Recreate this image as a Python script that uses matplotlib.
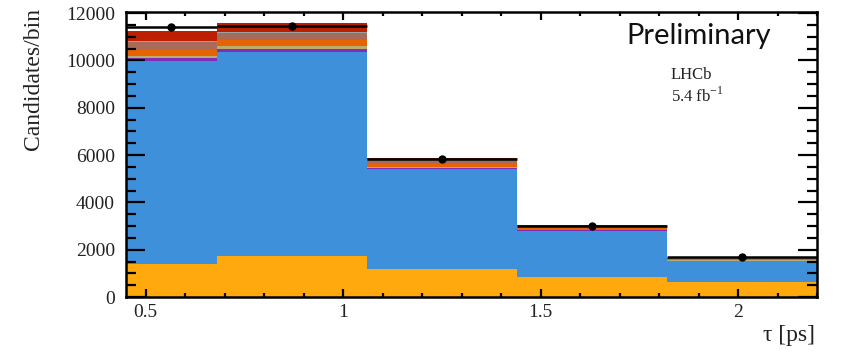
import numpy as np
import matplotlib
matplotlib.use("Agg")
import matplotlib.pyplot as plt
from matplotlib.ticker import MultipleLocator

# Bin edges (tau in ps)
edges = [0.45, 0.68, 1.06, 1.44, 1.82, 2.2]

# Stacked components (bottom to top)
comp_yellow = [1396, 1720, 1197, 859, 647]
comp_blue = [8574, 8656, 4233, 1946, 876]
comp_purple = [140, 115, 40, 20, 15]
comp_tan = [100, 115, 40, 15, 8]
comp_orange = [250, 265, 170, 70, 45]
comp_brown = [310, 300, 140, 70, 45]
comp_teal = [45, 40, 20, 10, 5]
comp_red = [420, 380, 50, 40, 25]

components = [comp_yellow, comp_blue, comp_purple, comp_tan,
              comp_orange, comp_brown, comp_teal, comp_red]
colors = ["#ffa90e", "#3f90da", "#832db6", "#b9ac70",
          "#e76300", "#a96b59", "#94a4a2", "#bd1f01"]

# Data points
data_y = [11410, 11437, 5837, 3003, 1705]
data_yerr = [107, 107, 76, 55, 41]

fig = plt.figure(figsize=(8.46, 3.51), dpi=100)
ax = fig.add_axes([126/846, 1-297/351, (817-126)/846, (297-12)/351])

edges_a = np.array(edges)
base = np.zeros(len(edges) - 1)
for vals, col in zip(components, colors):
    top = base + np.array(vals)
    ax.stairs(top, edges_a, baseline=base, fill=True, color=col, linewidth=0)
    base = top

centers = 0.5 * (edges_a[1:] + edges_a[:-1])
halfw = 0.5 * (edges_a[1:] - edges_a[:-1])
ax.errorbar(centers, data_y, xerr=halfw, yerr=data_yerr, fmt='o', color='black',
            markersize=5, elinewidth=1.8, capsize=0)

ax.set_xlim(0.45, 2.2)
ax.set_ylim(0, 12050)

ax.xaxis.set_minor_locator(MultipleLocator(0.1))
ax.yaxis.set_major_locator(MultipleLocator(2000))
ax.yaxis.set_minor_locator(MultipleLocator(500))

ax.set_xticks([0.5, 1, 1.5, 2])
ax.set_xticklabels(["0.5", "1", "1.5", "2"])

serif = "Liberation Serif"
for lab in ax.get_xticklabels() + ax.get_yticklabels():
    lab.set_fontfamily(serif)
    lab.set_fontsize(14)
    lab.set_color("#222222")

ax.tick_params(axis='x', which='major', direction='in', length=6, width=1.6,
               top=True, bottom=True, pad=5)
ax.tick_params(axis='x', which='minor', direction='in', length=3, width=1.6,
               top=True, bottom=True)
ax.tick_params(axis='y', which='major', direction='in', length=14, width=1.6,
               left=True, right=True, pad=8)
ax.tick_params(axis='y', which='minor', direction='in', length=7, width=1.6,
               left=True, right=True)
for sp in ax.spines.values():
    sp.set_linewidth(1.8)

fig.text(33/846, 1-8/351, "Candidates/bin", rotation=90, ha='center', va='top',
         fontfamily=serif, fontsize=17, color="#222222")
fig.text(815/846, 1-335/351, "τ [ps]", ha='right', va='center',
         fontfamily=serif, fontsize=17, color="#222222")

fig.text(699/846, 1-36/351, "Preliminary", ha='center', va='center',
         fontfamily="Lato", fontsize=21, color="#111111")
fig.text(671/846, 1-75/351, "LHCb", ha='left', va='center',
         fontfamily=serif, fontsize=12, color="#222222")
fig.text(671/846, 1-96/351, r"5.4 fb$^{\mathregular{-1}}$", ha='left', va='center',
         fontfamily=serif, fontsize=12, color="#222222")

fig.savefig("out.png", dpi=100)
